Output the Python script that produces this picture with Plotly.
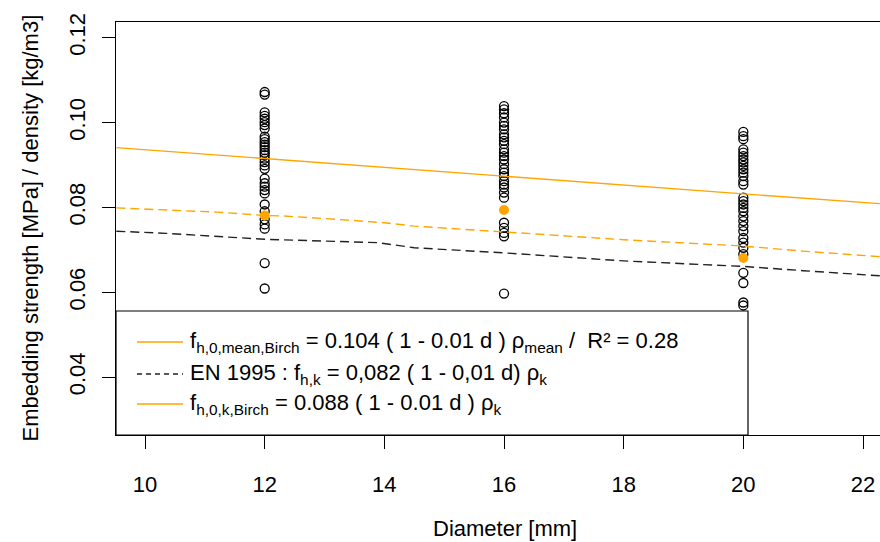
import plotly.graph_objects as go

# ---------------- data ----------------
diam_12 = 12
diam_16 = 16
diam_20 = 20

strength_12 = [0.1072, 0.1066, 0.1024, 0.1016, 0.1009, 0.1001, 0.0994, 0.0986, 0.0967,
               0.0961, 0.0954, 0.0948, 0.0942, 0.0935, 0.0929, 0.0923, 0.0915, 0.0907,
               0.0899, 0.0891, 0.0868, 0.0857, 0.0849, 0.0841, 0.0833, 0.0807, 0.0791,
               0.0772, 0.0760, 0.0750, 0.0669, 0.0609]
strength_16 = [0.1039, 0.1031, 0.1022, 0.1012, 0.1000, 0.0992, 0.0984, 0.0972, 0.0965,
               0.0957, 0.0949, 0.0937, 0.0929, 0.0921, 0.0913, 0.0902, 0.0890, 0.0882,
               0.0874, 0.0862, 0.0854, 0.0847, 0.0835, 0.0823, 0.0764, 0.0752, 0.0740,
               0.0732, 0.0597]
strength_20 = [0.0978, 0.0968, 0.0961, 0.0937, 0.0929, 0.0921, 0.0913, 0.0906, 0.0898,
               0.0890, 0.0882, 0.0874, 0.0862, 0.0854, 0.0823, 0.0815, 0.0807, 0.0799,
               0.0791, 0.0779, 0.0768, 0.0756, 0.0744, 0.0728, 0.0717, 0.0705, 0.0690,
               0.0646, 0.0622, 0.0576, 0.0569]

k_diam = [12, 16, 20]
k_values = [0.0781, 0.0794, 0.0681]

mean_line_d = [9.52, 12, 14, 16, 18, 20, 22.28]
mean_line_v = [0.0941, 0.0915, 0.0894, 0.0874, 0.0853, 0.0832, 0.0809]

k_line_d = [9.52, 10.35, 11.2, 12, 12.3, 13.2, 14, 14.5, 16, 18, 20, 21, 22.28]
k_line_v = [0.0799, 0.0794, 0.0789, 0.0781, 0.0780, 0.0772, 0.0764, 0.0756, 0.0743,
            0.0724, 0.0709, 0.0697, 0.0684]

en_line_d = [9.52, 10.35, 12, 13.9, 14.5, 16, 18, 20, 21, 22.28]
en_line_v = [0.0744, 0.0739, 0.0725, 0.0717, 0.0705, 0.0693, 0.0674, 0.0661, 0.0651, 0.0639]

x_ticks = [10, 12, 14, 16, 18, 20, 22]
y_ticks = [0.04, 0.06, 0.08, 0.10, 0.12]
y_tick_text = ["0.04", "0.06", "0.08", "0.10", "0.12"]

legend_labels = [
    "f<sub>h,0,mean,Birch</sub> = 0.104 ( 1 - 0.01 d ) ρ<sub>mean</sub> /  R² = 0.28",
    "EN 1995 : f<sub>h,k</sub> = 0,082 ( 1 - 0,01 d) ρ<sub>k</sub>",
    "f<sub>h,0,k,Birch</sub> = 0.088 ( 1 - 0.01 d ) ρ<sub>k</sub>",
]

ORANGE = "#FFA500"
FONT = "Liberation Sans, Arial, sans-serif"
FS = 22

fig = go.Figure()

circle_style = dict(symbol="circle-open", size=9, color="black", line=dict(width=1.3, color="black"))
for d, vals in [(diam_12, strength_12), (diam_16, strength_16), (diam_20, strength_20)]:
    fig.add_trace(go.Scatter(x=[d] * len(vals), y=vals, mode="markers",
                             marker=circle_style, showlegend=False, hoverinfo="y"))

fig.add_trace(go.Scatter(x=mean_line_d, y=mean_line_v, mode="lines",
                         line=dict(color=ORANGE, width=1.4), showlegend=False))
fig.add_trace(go.Scatter(x=k_line_d, y=k_line_v, mode="lines",
                         line=dict(color=ORANGE, width=1.4, dash="9px,5px"), showlegend=False))
fig.add_trace(go.Scatter(x=en_line_d, y=en_line_v, mode="lines",
                         line=dict(color="#222222", width=1.4, dash="9px,5px"), showlegend=False))
fig.add_trace(go.Scatter(x=k_diam, y=k_values, mode="markers",
                         marker=dict(symbol="circle", size=10, color=ORANGE), showlegend=False))

# plot area geometry (pixels)
L, T, R, B = 116, 22, 880, 435
W, H = R - L, B - T

def px(xp):
    return (xp - L) / W

def py(yp):
    return (B - yp) / H

# legend box drawn manually (R style)
shapes = [dict(type="rect", xref="paper", yref="paper", x0=0, x1=px(748), y0=0, y1=py(311),
               fillcolor="white", line=dict(color="black", width=1.2), layer="above")]
rows = [342, 374, 404]
styles = [dict(color=ORANGE, width=1.4), dict(color="#222222", width=1.4, dash="5px,4px"),
          dict(color=ORANGE, width=1.4)]
annotations = []
for yp, st, lab in zip(rows, styles, legend_labels):
    shapes.append(dict(type="line", xref="paper", yref="paper", x0=px(137), x1=px(183),
                       y0=py(yp), y1=py(yp), line=st, layer="above"))
    annotations.append(dict(text=lab, xref="paper", yref="paper", x=px(188), y=py(yp),
                            xanchor="left", yanchor="middle", showarrow=False,
                            font=dict(family=FONT, size=FS, color="black")))

annotations.append(dict(text="Diameter [mm]", xref="paper", yref="paper", x=px(505),
                        y=py(528), xanchor="center", yanchor="middle", showarrow=False,
                        font=dict(family=FONT, size=FS, color="black")))
annotations.append(dict(text="Embedding strength [MPa] / density [kg/m3]", xref="paper", yref="paper",
                        x=px(30), y=0.5, xanchor="center", yanchor="middle", textangle=-90,
                        showarrow=False, font=dict(family=FONT, size=FS, color="black")))

fig.update_layout(
    width=880, height=542,
    margin=dict(l=L, r=880 - R, t=T, b=542 - B, pad=0),
    paper_bgcolor="white", plot_bgcolor="white",
    font=dict(family=FONT, size=FS, color="black"),
    shapes=shapes, annotations=annotations,
    showlegend=False,
)
fig.update_xaxes(range=[9.515, 22.284], tickvals=x_ticks, ticks="outside", ticklen=13,
                 tickcolor="black", tickwidth=1, showline=True, mirror=True, linecolor="black",
                 linewidth=1.2, showgrid=False, zeroline=False, ticklabelstandoff=16,
                 tickfont=dict(family=FONT, size=FS))
fig.update_yaxes(range=[0.02638, 0.1237], tickvals=y_ticks, ticktext=y_tick_text, ticks="outside",
                 ticklen=13, tickcolor="black", tickwidth=1, showline=True, mirror=False,
                 linecolor="black", linewidth=1.2, showgrid=False, zeroline=False,
                 tickangle=-90, ticklabelstandoff=8, tickfont=dict(family=FONT, size=FS))

fig.write_html("out.html")
